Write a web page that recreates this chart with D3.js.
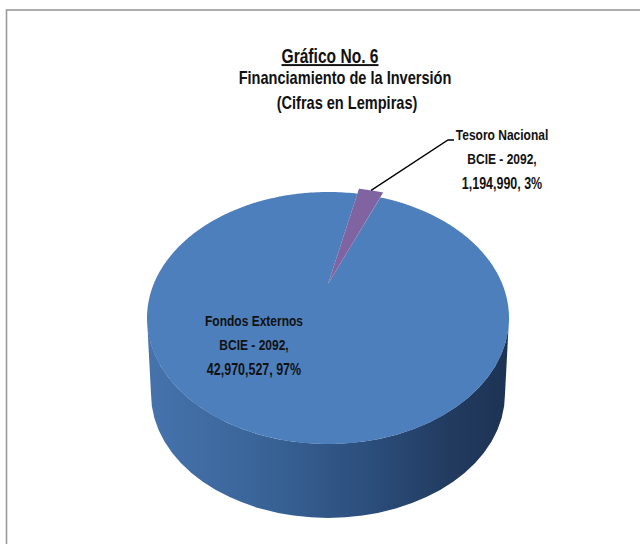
<!DOCTYPE html>
<html>
<head>
<meta charset="utf-8">
<script src="https://cdn.jsdelivr.net/npm/d3@7"></script>
<style>
  html, body { margin: 0; padding: 0; background: #fff; }
  svg { display: block; }
  text { font-family: 'Liberation Sans', Arial, sans-serif; font-weight: bold; fill: #111; }
</style>
</head>
<body>
<svg id="chart" width="640" height="544"></svg>
<script>
// data
var categories = ['Tesoro Nacional', 'Fondos Externos'];
var sources = ['BCIE - 2092', 'BCIE - 2092'];
var values = [1194990, 42970527];
var colors = ['#8064A2', '#4D7FBD'];

var titleLines = ['Gráfico No. 6', 'Financiamiento de la Inversión', '(Cifras en Lempiras)'];

var W = 640, H = 544;
var svg = d3.select('#chart');

// narrow bold text: squeeze the font horizontally
var squeeze = 0.8;
function narrow_text(x, y, size, str)
{
  return svg.append('text')
            .attr('transform', 'translate(' + x + ',' + y + ') scale(' + squeeze + ',1)')
            .attr('text-anchor', 'middle')
            .style('font-size', size + 'px')
            .text(str);
}

// frame of the chart area
svg.append('rect')
   .attr('x', 6.5).attr('y', 10)
   .attr('width', 700).attr('height', 700)
   .attr('fill', 'none')
   .attr('stroke', '#9a9a9a')
   .attr('stroke-width', 1.6);

// titles
var titlePos = [[330, 63, 19.5], [345, 84, 18.2], [347, 109, 18.2]];
titleLines.forEach((t, i) => {
  narrow_text(titlePos[i][0], titlePos[i][1], titlePos[i][2], t)
     .style('text-decoration', i === 0 ? 'underline' : 'none');
});

// 3d pie geometry (perspective: far side compressed)
var cx = 328, cy = 318, rx = 181, ry = 126, a = -0.27;
var depth = 76, rxb = 177, ryb = 124;

function proj(theta, k)
{
  var x = k * Math.sin(theta), y = -k * Math.cos(theta);
  var d = 1 + a * y;
  return [cx + rx * x * Math.sqrt(1 - a * a) / d, cy + ry * (y + a) / d];
}

var apex = [cx, cy + ry * a];

var pie = d3.pie().sort(null)
            .startAngle(12.3 * Math.PI / 180)
            .endAngle(12.3 * Math.PI / 180 + 2 * Math.PI);
var arcs = pie(values);

// side gradient
var defs = svg.append('defs');
var grad = defs.append('linearGradient')
               .attr('id', 'side-grad')
               .attr('x1', 0).attr('x2', 1).attr('y1', 0).attr('y2', 0);
[[0, '#4673ad'], [0.3, '#3a6599'], [0.6, '#2c4f7d'], [0.85, '#213a5e'], [1, '#1d3354']]
  .forEach(s => grad.append('stop').attr('offset', s[0]).attr('stop-color', s[1]));

// front side wall (belongs to the big slice)
svg.append('path')
   .attr('d', 'M' + (cx - rx) + ',' + cy +
              ' A' + rx + ',' + ry + ' 0 0 0 ' + (cx + rx) + ',' + cy +
              ' L' + (cx + rxb) + ',' + (cy + depth) +
              ' A' + rxb + ',' + ryb + ' 0 0 1 ' + (cx - rxb) + ',' + (cy + depth) + ' Z')
   .attr('fill', 'url(#side-grad)');

var line = d3.line();

function slice_points(d, k)
{
  var n = Math.max(8, Math.ceil((d.endAngle - d.startAngle) / 0.02));
  var pts = [apex];
  for (let i = 0; i <= n; i++)
  {
    pts.push(proj(d.startAngle + (d.endAngle - d.startAngle) * i / n, k));
  }
  return pts;
}

// big slice first, small exploded slice on top
var explode = [1.07, 1];
[1, 0].forEach(i => {
  svg.append('path')
     .attr('d', line(slice_points(arcs[i], explode[i])) + 'Z')
     .attr('fill', colors[i]);
});

// labels
var fmt = d3.format(',');
var total = d3.sum(values);
var pct = v => Math.round(100 * v / total) + '%';

var labelPos = [[502, 140], [254, 326]];
var lineGap = 24.3;

arcs.forEach((d, i) => {
  var lines = [categories[i], sources[i] + ',', fmt(values[i]) + ', ' + pct(values[i])];
  lines.forEach((t, j) => {
    narrow_text(labelPos[i][0], labelPos[i][1] + j * lineGap, j === 2 ? 15.6 : 15, t);
  });
});

// leader line for the small slice
var mid = (arcs[0].startAngle + arcs[0].endAngle) / 2;
var p0 = proj(mid, 1.07);
svg.append('path')
   .attr('d', line([p0, [448, 140], [454, 140]]))
   .attr('fill', 'none')
   .attr('stroke', '#000')
   .attr('stroke-width', 1.3);
</script>
</body>
</html>
